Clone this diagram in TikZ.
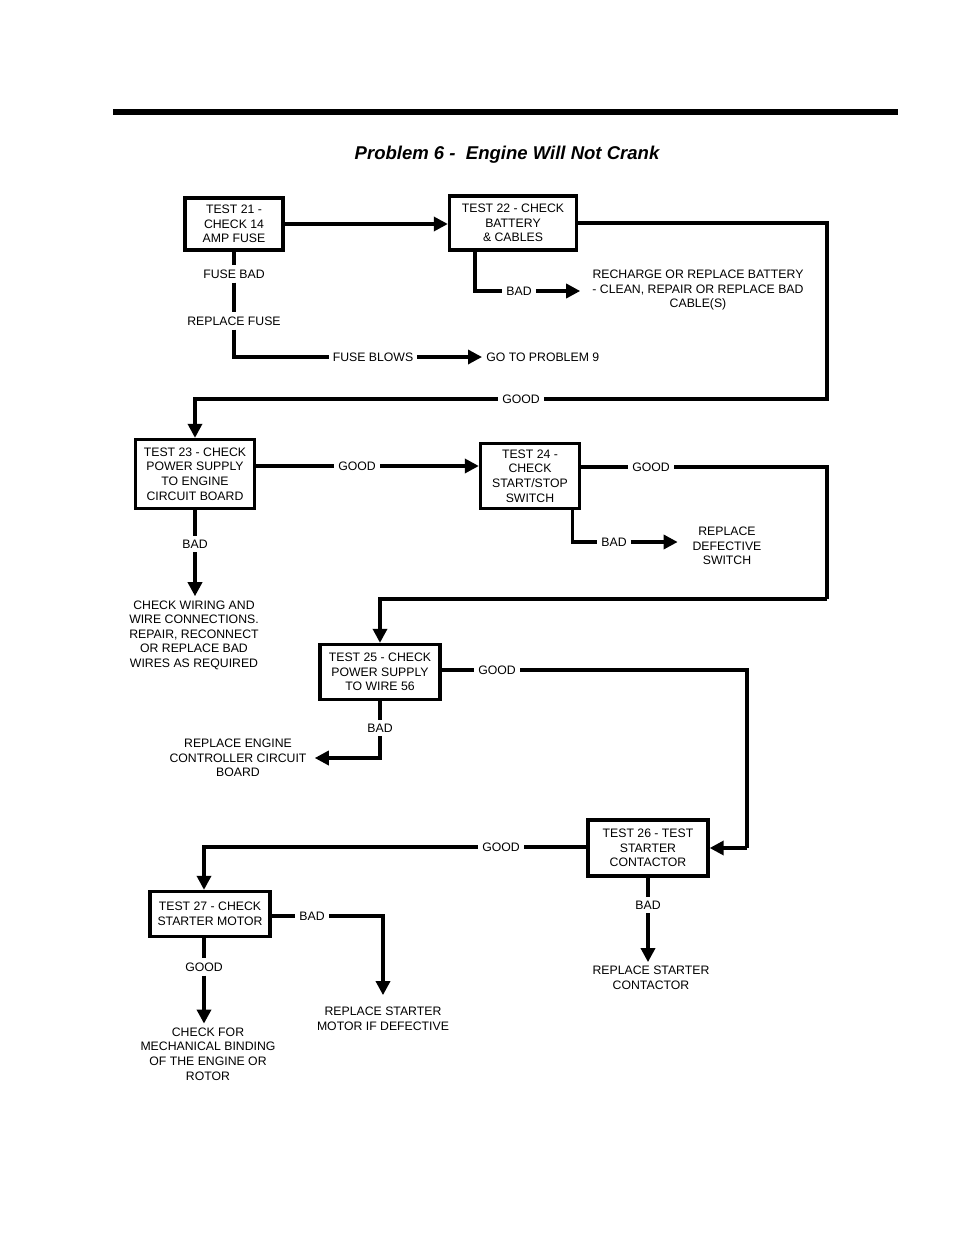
\documentclass[tikz,border=0pt]{standalone}
\usepackage{fontspec}
\setmainfont{Liberation Sans}
\usepackage{tikz}
\usetikzlibrary{positioning,calc,arrows.meta}

\newcommand{\chartfont}{\fontsize{9.2}{10.9}\selectfont}
\newcommand{\titlefont}{\fontsize{13.9}{16}\selectfont\bfseries\itshape}

\tikzset{
	testbox/.style={rectangle, draw=black, line width=2.5pt, align=center, inner sep=0pt},
	lbl/.style={align=center, inner sep=3pt},
	flow/.style={line width=2.5pt},
	flowarrow/.style={line width=2.5pt, -{Triangle[length=10.5pt,width=10.5pt]}},
}

\begin{document}
\begin{tikzpicture}[x=0.75pt, y=-0.75pt, font=\chartfont]
		\useasboundingbox (0,0) rectangle (954,1235);
		\fill (113,109) rectangle (898,115);
		\node [font=\titlefont] (title) at (507,155) {Problem 6 -\ \ Engine Will Not Crank};
		
		% tests
		\node [testbox, minimum width=73.5pt, minimum height=39pt] (t21) at (234,224) {TEST 21 -\\CHECK 14\\AMP FUSE};
		\node [testbox, minimum width=95.25pt, minimum height=40.5pt] (t22) at (513,223) {TEST 22 - CHECK\\BATTERY\\\& CABLES};
		\node [testbox, minimum width=89.25pt, minimum height=51.75pt] (t23) at (195,474) {TEST 23 - CHECK\\POWER SUPPLY\\TO ENGINE\\CIRCUIT BOARD};
		\node [testbox, minimum width=74.25pt, minimum height=48.75pt] (t24) at (530,476) {TEST 24 -\\CHECK\\START/STOP\\SWITCH};
		\node [testbox, minimum width=90pt, minimum height=41.25pt] (t25) at (380,672) {TEST 25 - CHECK\\POWER SUPPLY\\TO WIRE 56};
		\node [testbox, minimum width=90pt, minimum height=42pt] (t26) at (648,848) {TEST 26 - TEST\\STARTER\\CONTACTOR};
		\node [testbox, minimum width=90pt, minimum height=33.75pt] (t27) at (210,914) {TEST 27 - CHECK\\STARTER MOTOR};
		
		% labels and results
		\node [lbl] (fusebad) at (234,274) {FUSE BAD};
		\node [lbl] (repfuse) at (234,321) {REPLACE FUSE};
		\node [lbl] (fuseblows) at (373,357) {FUSE BLOWS};
		\node [lbl, anchor=west] (prob9) at (482,357) {GO TO PROBLEM 9};
		\node [lbl] (bad22) at (519,291) {BAD};
		\node [lbl] (battery) at (698,290) {RECHARGE OR REPLACE BATTERY\\- CLEAN, REPAIR OR REPLACE BAD\\CABLE(S)};
		\node [lbl] (good22) at (521,399) {GOOD};
		\node [lbl] (good23) at (357,466) {GOOD};
		\node [lbl] (bad23) at (195,544) {BAD};
		\node [lbl] (wiring) at (194,635) {CHECK WIRING AND\\WIRE CONNECTIONS.\\REPAIR, RECONNECT\\OR REPLACE BAD\\WIRES AS REQUIRED};
		\node [lbl] (good24) at (651,467) {GOOD};
		\node [lbl] (bad24) at (614,542) {BAD};
		\node [lbl] (switch) at (727,546) {REPLACE\\DEFECTIVE\\SWITCH};
		\node [lbl] (good25) at (497,670) {GOOD};
		\node [lbl] (bad25) at (380,728) {BAD};
		\node [lbl] (board) at (238,758) {REPLACE ENGINE\\CONTROLLER CIRCUIT\\BOARD};
		\node [lbl] (good26) at (501,847) {GOOD};
		\node [lbl] (bad26) at (648,905) {BAD};
		\node [lbl] (contactor) at (651,978) {REPLACE STARTER\\CONTACTOR};
		\node [lbl] (bad27) at (312,916) {BAD};
		\node [lbl] (motor) at (383,1019) {REPLACE STARTER\\MOTOR IF DEFECTIVE};
		\node [lbl] (good27) at (204,967) {GOOD};
		\node [lbl] (binding) at (208,1054) {CHECK FOR\\MECHANICAL BINDING\\OF THE ENGINE OR\\ROTOR};
		
		\coordinate (r1) at (827,399);
		\coordinate (r2) at (827,599);
		\coordinate (r3) at (747,848);
		
		% connectors
		\draw[flowarrow] (t21.east) -- (t21.east -| t22.west);
		\draw[flow] (t21) -- (fusebad);
		\draw[flow] (fusebad) -- (repfuse);
		\draw[flow] (repfuse) |- (fuseblows);
		\draw[flowarrow] (fuseblows) -- (prob9);
		\draw[flow] ([xshift=20.25pt]t22.south west) |- (bad22);
		\draw[flowarrow, shorten >=6pt] (bad22) -- (bad22 -| battery.west);
		\draw[flow] (t22.east) -| (r1) -- (good22);
		\draw[flowarrow] (good22) -| (t23);
		
		\draw[flow] (t23.east |- good23) -- (good23);
		\draw[flowarrow] (good23) -- (good23 -| t24.west);
		\draw[flow] (t23) -- (bad23);
		\draw[flowarrow] (bad23) -- (bad23 |- wiring.north);
		\draw[flow] (t24.east |- good24) -- (good24);
		\draw[flow] (good24) -| (r2);
		\draw[flowarrow] (r2) -| (t25);
		\draw[flow] ([xshift=-6.75pt]t24.south east) |- (bad24);
		\draw[flowarrow, shorten >=8pt] (bad24) -- (bad24 -| switch.west);
		
		\draw[flow] (t25.east |- good25) -- (good25);
		\draw[flow] (good25) -| (r3);
		\draw[flowarrow] (r3) -- (t26.east);
		\draw[flow] (t25) -- (bad25);
		\draw[flowarrow, shorten >=3pt] (bad25) |- (board.east);
		
		\draw[flow] (t26.west |- good26) -- (good26);
		\draw[flowarrow] (good26) -| ([xshift=-4.5pt]t27.north);
		\draw[flow] (t26) -- (bad26);
		\draw[flowarrow] (bad26) -- (bad26 |- contactor.north);
		\draw[flow] (t27.east |- bad27) -- (bad27);
		\draw[flowarrow, shorten >=6pt] (bad27) -| (motor.north);
		\draw[flow] ([xshift=-4.5pt]t27.south) -- (good27);
		\draw[flowarrow] (good27) -- (good27 |- binding.north);
	\end{tikzpicture}
\end{document}
